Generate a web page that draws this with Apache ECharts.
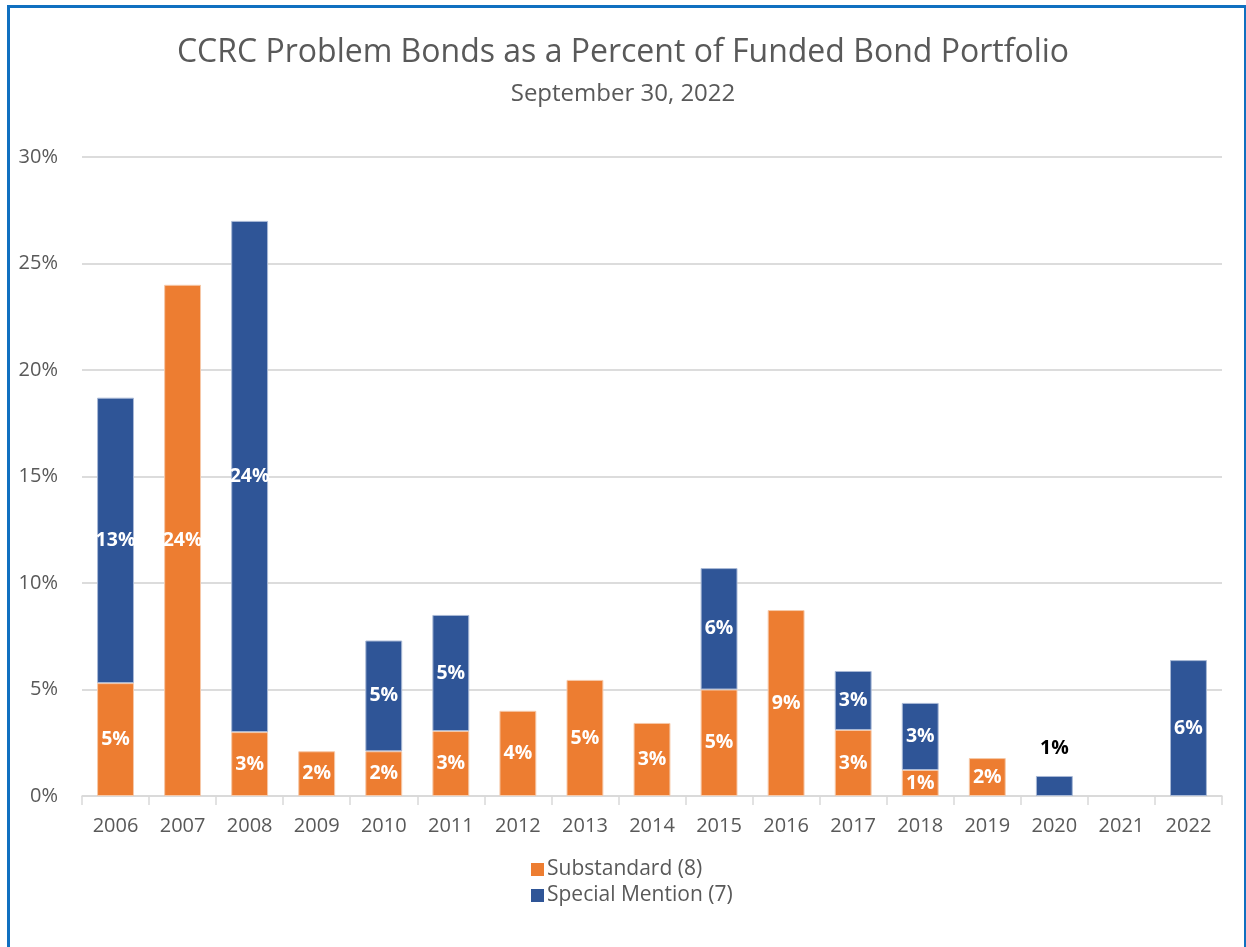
<!DOCTYPE html>
<html>
<head>
<meta charset="utf-8">
<script src="https://cdn.jsdelivr.net/npm/echarts@6/dist/echarts.min.js"></script>
<style>
  html, body { margin: 0; padding: 0; background: #fff; }
  .ccrc-chart { position: absolute; left: 0; top: 0; width: 1246px; height: 947px; }
  .frame {
    position: absolute; left: 7px; top: 5px; width: 1234px; height: 960px;
    border-left: 3px solid #1070C0; border-top: 3px solid #1070C0; border-right: 2px solid #1070C0;
    pointer-events: none;
  }
</style>
</head>
<body>
<div class="ccrc-chart" id="chart"></div>
<div class="frame"></div>
<script>
  // values, percent of funded bond portfolio
  var years = ['2006', '2007', '2008', '2009', '2010', '2011', '2012', '2013', '2014',
               '2015', '2016', '2017', '2018', '2019', '2020', '2021', '2022']
  var substandard = [5.3, 24.0, 3.0, 2.1, 2.1, 3.05, 4.0, 5.45, 3.43, 5.0, 8.73, 3.1, 1.22, 1.78, 0, 0, 0]
  var specialMention = [13.4, 0, 24.0, 0, 5.2, 5.45, 0, 0, 0, 5.7, 0, 2.77, 3.15, 0, 0.94, 0, 6.38]
  var yTicks = [0, 5, 10, 15, 20, 25, 30]

  var font = 'Open Sans'
  var grey = '#595959'

  var chart = echarts.init(document.getElementById('chart'))

  var segLabel = {
    show: true,
    position: 'inside',
    color: '#fff',
    fontFamily: font,
    fontWeight: 'bold',
    fontSize: 19.5,
    formatter: function (p) {
      return p.value > 0 ? Math.round(p.value) + '%' : ''
    }
  }

  // empty segments are skipped so no zero-height outline shows
  var orangeData = substandard.map(function (v) { return v > 0 ? v : '-' })
  var blueData = specialMention.map(function (v, i) {
    if (!(v > 0)) return '-'
    // 2020 sliver gets its label above the bar in black
    if (years[i] === '2020') {
      return { value: v, label: { position: 'top', color: '#000', distance: 18 } }
    }
    return v
  })

  chart.setOption({
    animation: false,
    color: ['#ED7D31', '#2F5597'],
    title: {
      text: 'CCRC Problem Bonds as a Percent of Funded Bond Portfolio',
      subtext: 'September 30, 2022',
      left: 'center',
      top: 32,
      itemGap: 13,
      textStyle: { fontFamily: font, fontSize: 32, fontWeight: 'normal', color: grey },
      subtextStyle: { fontFamily: font, fontSize: 24, color: grey }
    },
    grid: { left: 82, right: 24, top: 157, bottom: 151 },
    legend: {
      orient: 'vertical',
      left: 526,
      top: 854,
      itemWidth: 13,
      itemHeight: 13,
      itemGap: 5,
      icon: 'rect',
      itemStyle: { borderWidth: 0 },
      textStyle: { fontFamily: font, fontSize: 21, color: grey, padding: [0, 0, 0, -2] },
      data: ['Substandard (8)', 'Special Mention (7)']
    },
    xAxis: {
      type: 'category',
      data: years,
      axisLine: { lineStyle: { color: '#d9d9d9', width: 1.5 } },
      axisTick: { show: true, length: 9, lineStyle: { color: '#d9d9d9', width: 1.5 } },
      axisLabel: { fontFamily: font, fontSize: 20, color: grey, margin: 20 }
    },
    yAxis: {
      type: 'value',
      min: yTicks[0],
      max: yTicks[yTicks.length - 1],
      interval: 5,
      axisLine: { show: false },
      axisTick: { show: false },
      splitLine: { lineStyle: { color: '#d0d0d0', width: 1.5 } },
      axisLabel: {
        fontFamily: font, fontSize: 20, color: grey, margin: 24,
        formatter: function (v) { return v + '%' }
      }
    },
    series: [
      {
        name: 'Substandard (8)',
        type: 'bar',
        stack: 'total',
        barWidth: '55%',
        itemStyle: { borderColor: '#f6c9a9', borderWidth: 1 },
        label: segLabel,
        data: orangeData
      },
      {
        name: 'Special Mention (7)',
        type: 'bar',
        stack: 'total',
        barWidth: '55%',
        itemStyle: { borderColor: '#a9b9d6', borderWidth: 1 },
        label: segLabel,
        data: blueData
      }
    ]
  })
</script>
</body>
</html>
